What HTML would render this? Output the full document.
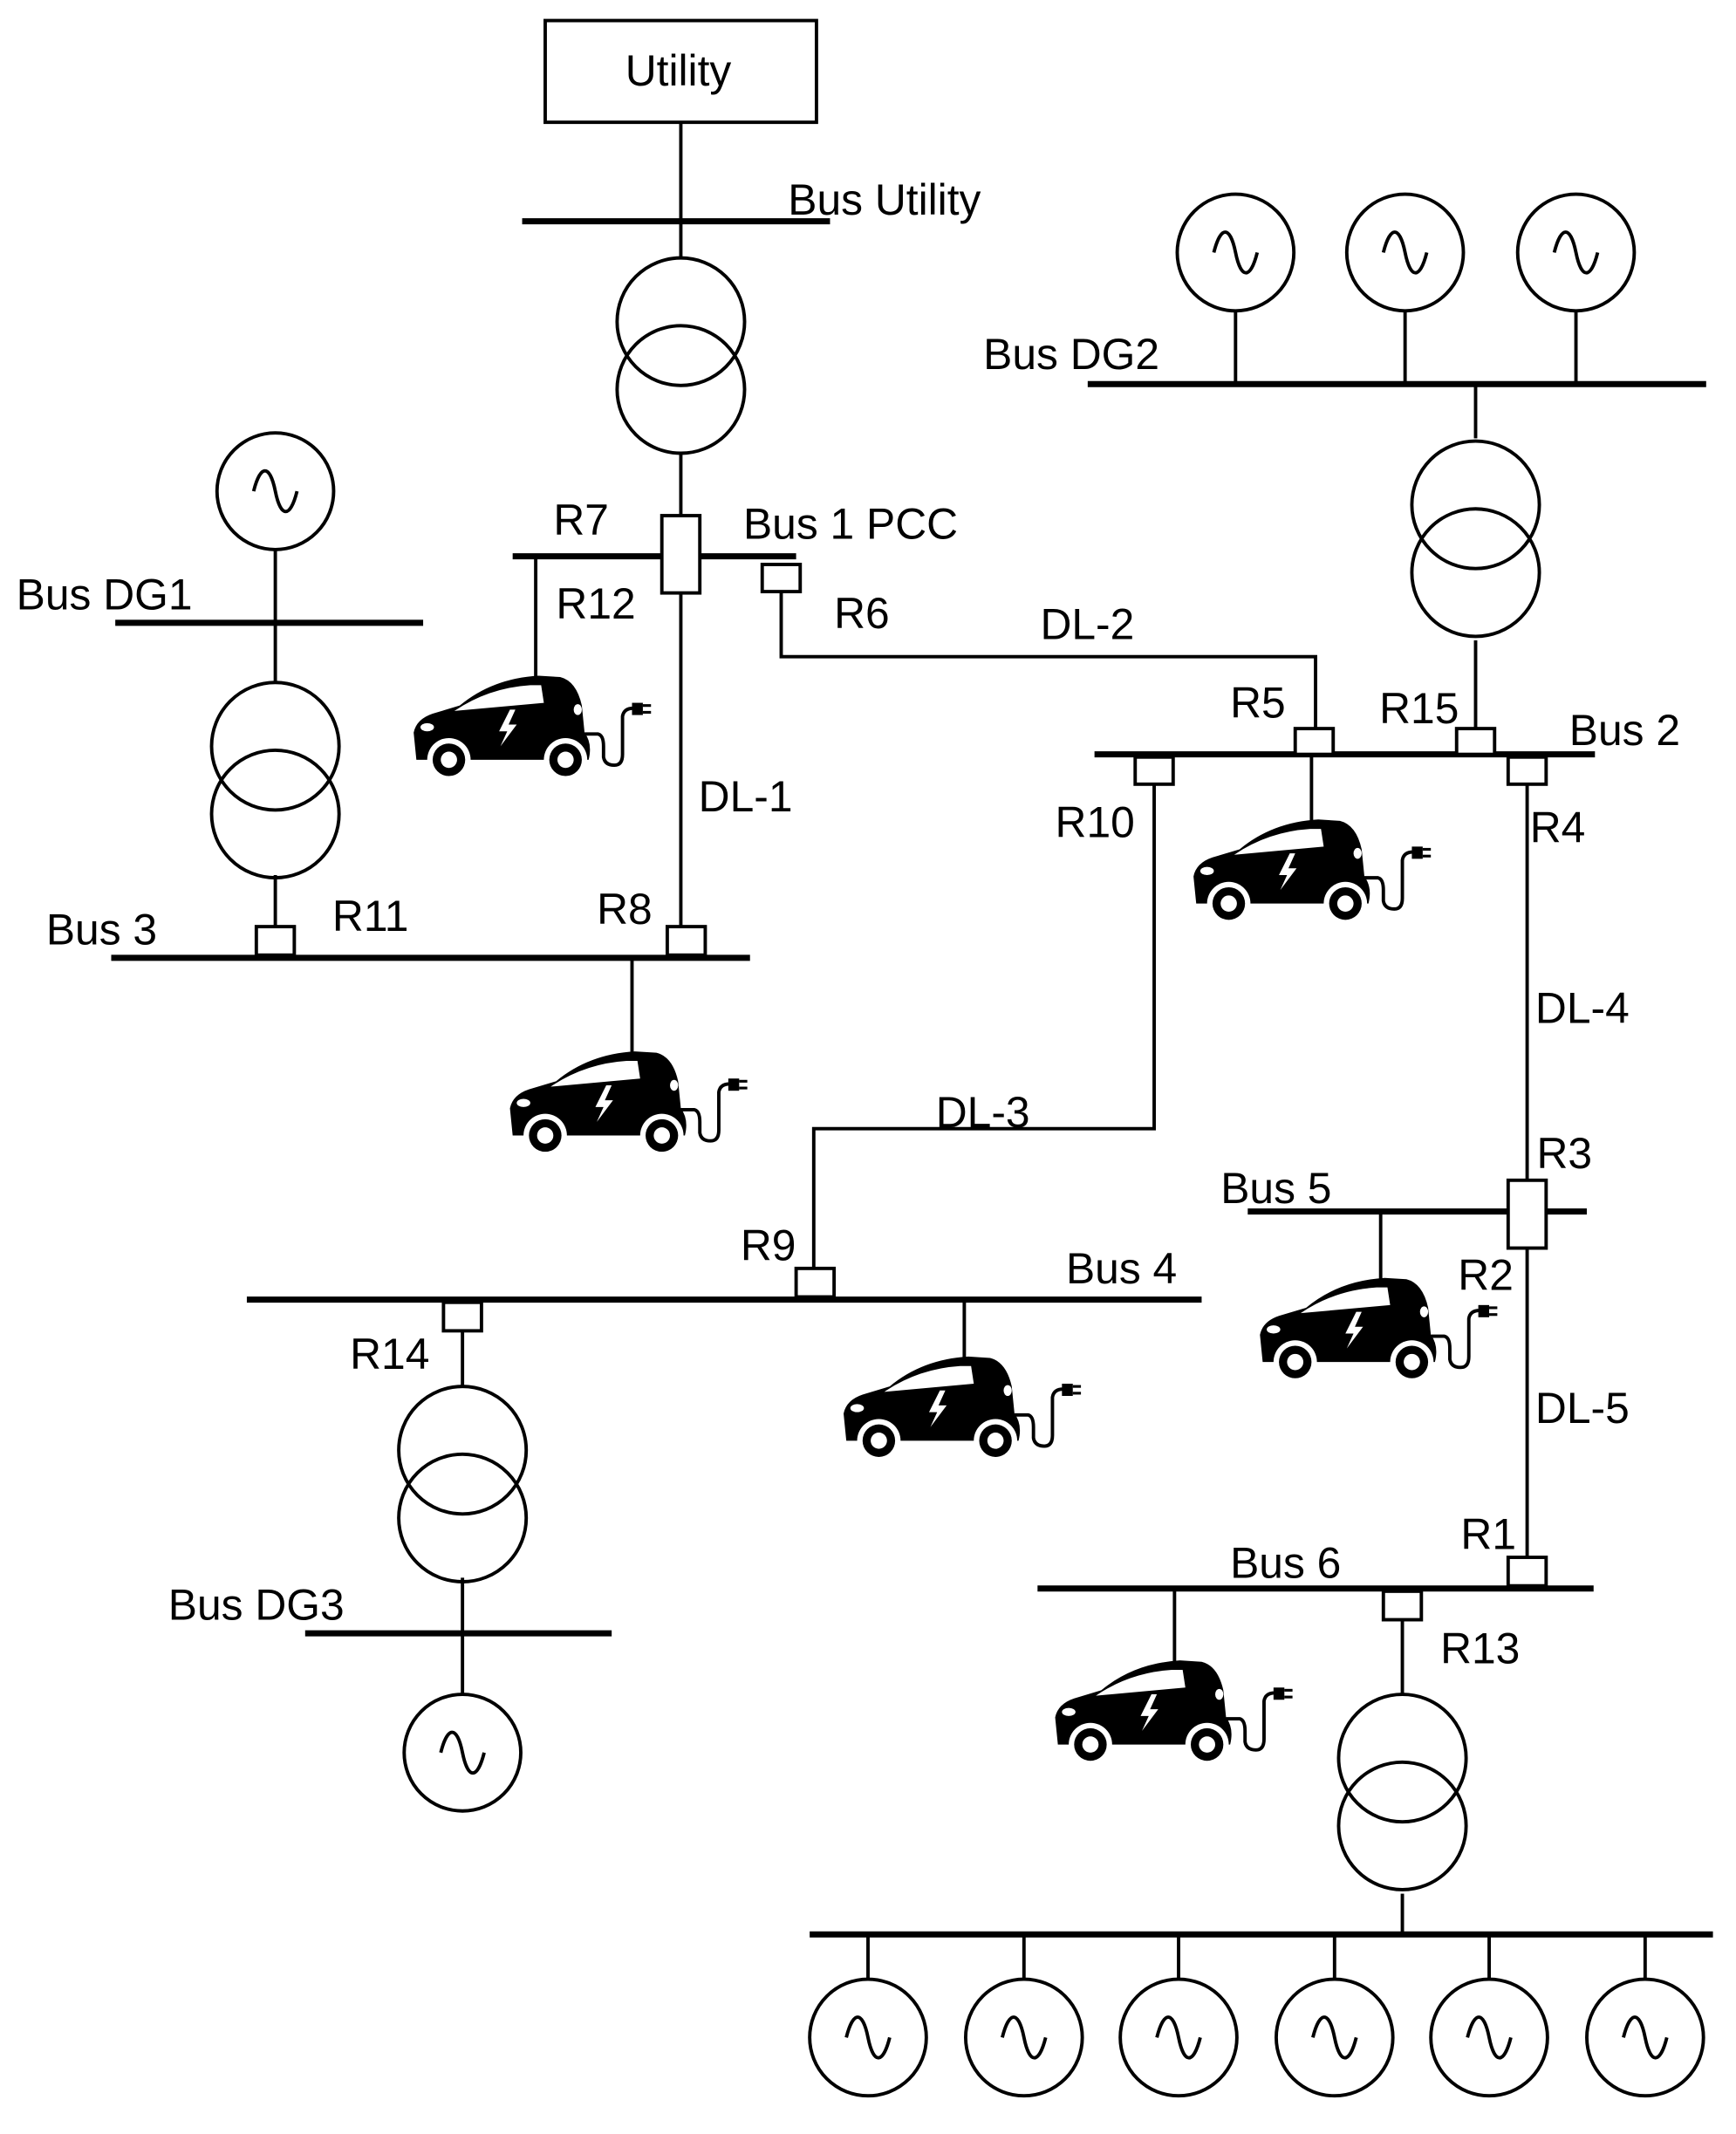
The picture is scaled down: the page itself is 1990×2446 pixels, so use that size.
<!DOCTYPE html>
<html><head><meta charset="utf-8"><style>html,body{margin:0;padding:0;background:#fff}svg{display:block}</style></head><body>
<svg width="1990" height="2446" viewBox="0 0 1280 1573" xmlns="http://www.w3.org/2000/svg" font-family="Liberation Sans, sans-serif" font-size="32">
<defs>
<g id="car">
<path d="M2,62 L0,42 Q2,32 14,28 L34,22 Q58,2 92,0 L108,1 Q120,4 124,22 L126,42 Q132,50 129,62 Z" fill="#000"/>
<path d="M30,26 Q55,9 86,7 L94,7 L96,20 Z" fill="#fff"/>
<ellipse cx="10" cy="38" rx="5" ry="3" fill="#fff"/>
<ellipse cx="121" cy="25" rx="3" ry="4" fill="#fff"/>
<path d="M71,25 L63,41 L69,41 L64,52 L76,36 L70,36 L75,25 Z" fill="#fff"/>
<circle cx="26" cy="62" r="16" fill="#fff"/><circle cx="26" cy="62" r="12" fill="#000"/><circle cx="26" cy="62" r="6" fill="#fff"/>
<circle cx="112" cy="62" r="16" fill="#fff"/><circle cx="112" cy="62" r="12" fill="#000"/><circle cx="112" cy="62" r="6" fill="#fff"/>
<path d="M126,43 L136,43 Q140,44 140,52 L140,60 Q141,66 148,66 Q154,66 154,58 L154,30 Q155,24 162,24" fill="none" stroke="#000" stroke-width="2.5"/>
<rect x="161" y="20" width="8" height="9" fill="#000"/><rect x="169" y="21" width="6" height="2" fill="#000"/><rect x="169" y="26" width="6" height="2" fill="#000"/>
</g>
<g id="gen"><circle r="43" fill="#fff" stroke="#000" stroke-width="2.5"/><path d="M-16,0 C-11,-20 -4,-20 0,0 C4,20 11,20 16,0" fill="none" stroke="#000" stroke-width="2.5"/></g>
<g id="tr" fill="none" stroke="#000" stroke-width="2.5"><circle cx="0" cy="0" r="47"/><circle cx="0" cy="50" r="47"/></g>
</defs>
<g stroke="#000" stroke-width="2.5" fill="none">
<rect x="402" y="15" width="200" height="75"/>
<line x1="502" y1="90" x2="502" y2="190"/>
<line x1="502" y1="335" x2="502" y2="380"/>
<line x1="395" y1="410" x2="395" y2="500"/>
<line x1="502" y1="437" x2="502" y2="683"/>
<polyline points="576,436 576,484 970,484 970,537"/>
<line x1="203" y1="405" x2="203" y2="503"/>
<line x1="203" y1="645" x2="203" y2="683"/>
<line x1="466" y1="706" x2="466" y2="777"/>
<line x1="911" y1="229" x2="911" y2="283"/><line x1="1036" y1="229" x2="1036" y2="283"/><line x1="1162" y1="229" x2="1162" y2="283"/>
<line x1="1088" y1="283" x2="1088" y2="323"/>
<line x1="1088" y1="472" x2="1088" y2="537"/>
<polyline points="851,578 851,832 600,832 600,935"/>
<line x1="967" y1="556" x2="967" y2="606"/>
<line x1="1126" y1="578" x2="1126" y2="870"/>
<line x1="1126" y1="920" x2="1126" y2="1148"/>
<line x1="1018" y1="893" x2="1018" y2="944"/>
<line x1="711" y1="958" x2="711" y2="1002"/>
<line x1="341" y1="981" x2="341" y2="1022"/>
<line x1="341" y1="1163" x2="341" y2="1249"/>
<line x1="866" y1="1171" x2="866" y2="1226"/>
<line x1="1034" y1="1194" x2="1034" y2="1249"/>
<line x1="1034" y1="1396" x2="1034" y2="1426"/>
<line x1="640" y1="1426" x2="640" y2="1459"/><line x1="755" y1="1426" x2="755" y2="1459"/><line x1="869" y1="1426" x2="869" y2="1459"/><line x1="984" y1="1426" x2="984" y2="1459"/><line x1="1098" y1="1426" x2="1098" y2="1459"/><line x1="1213" y1="1426" x2="1213" y2="1459"/>
</g>
<g stroke="#000" stroke-width="4.5">
<line x1="385" y1="163" x2="612" y2="163"/>
<line x1="378" y1="410" x2="587" y2="410"/>
<line x1="85" y1="459" x2="312" y2="459"/>
<line x1="82" y1="706" x2="553" y2="706"/>
<line x1="802" y1="283" x2="1258" y2="283"/>
<line x1="807" y1="556" x2="1176" y2="556"/>
<line x1="920" y1="893" x2="1170" y2="893"/>
<line x1="182" y1="958" x2="886" y2="958"/>
<line x1="765" y1="1171" x2="1175" y2="1171"/>
<line x1="225" y1="1204" x2="451" y2="1204"/>
<line x1="597" y1="1426" x2="1263" y2="1426"/>
</g>
<use href="#tr" x="502" y="237"/>
<use href="#tr" x="203" y="550"/>
<use href="#tr" x="1088" y="372"/>
<use href="#tr" x="341" y="1069"/>
<use href="#tr" x="1034" y="1296"/>
<use href="#gen" x="203" y="362"/>
<use href="#gen" x="911" y="186"/><use href="#gen" x="1036" y="186"/><use href="#gen" x="1162" y="186"/>
<use href="#gen" x="341" y="1292"/>
<use href="#gen" x="640" y="1502"/><use href="#gen" x="755" y="1502"/><use href="#gen" x="869" y="1502"/><use href="#gen" x="984" y="1502"/><use href="#gen" x="1098" y="1502"/><use href="#gen" x="1213" y="1502"/>
<g fill="#fff" stroke="#000" stroke-width="2.5">
<rect x="488" y="380" width="28" height="57"/>
<rect x="562" y="416" width="28" height="20"/>
<rect x="955" y="537" width="28" height="19"/>
<rect x="1074" y="537" width="28" height="19"/>
<rect x="837" y="558" width="28" height="20"/>
<rect x="1112" y="558" width="28" height="20"/>
<rect x="189" y="683" width="28" height="21"/>
<rect x="492" y="683" width="28" height="21"/>
<rect x="1112" y="870" width="28" height="50"/>
<rect x="587" y="935" width="28" height="21"/>
<rect x="327" y="960" width="28" height="21"/>
<rect x="1112" y="1148" width="28" height="21"/>
<rect x="1020" y="1173" width="28" height="21"/>
</g>
<use href="#car" x="305" y="498"/>
<use href="#car" x="376" y="775"/>
<use href="#car" x="880" y="604"/>
<use href="#car" x="929" y="942"/>
<use href="#car" x="622" y="1000"/>
<use href="#car" x="778" y="1224"/>
<g fill="#000">
<text x="461" y="63">Utility</text>
<text x="581" y="158">Bus Utility</text>
<text x="725" y="272">Bus DG2</text>
<text x="408" y="394">R7</text>
<text x="548" y="397">Bus 1 PCC</text>
<text x="12" y="449">Bus DG1</text>
<text x="410" y="456">R12</text>
<text x="615" y="463">R6</text>
<text x="767" y="471">DL-2</text>
<text x="907" y="529">R5</text>
<text x="1017" y="533">R15</text>
<text x="1157" y="549">Bus 2</text>
<text x="515" y="598">DL-1</text>
<text x="778" y="617">R10</text>
<text x="1128" y="621">R4</text>
<text x="440" y="681">R8</text>
<text x="245" y="686">R11</text>
<text x="34" y="696">Bus 3</text>
<text x="1132" y="754">DL-4</text>
<text x="690" y="831">DL-3</text>
<text x="1133" y="861">R3</text>
<text x="900" y="887">Bus 5</text>
<text x="546" y="929">R9</text>
<text x="786" y="946">Bus 4</text>
<text x="1075" y="951">R2</text>
<text x="258" y="1009">R14</text>
<text x="1132" y="1049">DL-5</text>
<text x="1077" y="1142">R1</text>
<text x="907" y="1163">Bus 6</text>
<text x="124" y="1194">Bus DG3</text>
<text x="1062" y="1226">R13</text>
</g>
</svg>
</body></html>
